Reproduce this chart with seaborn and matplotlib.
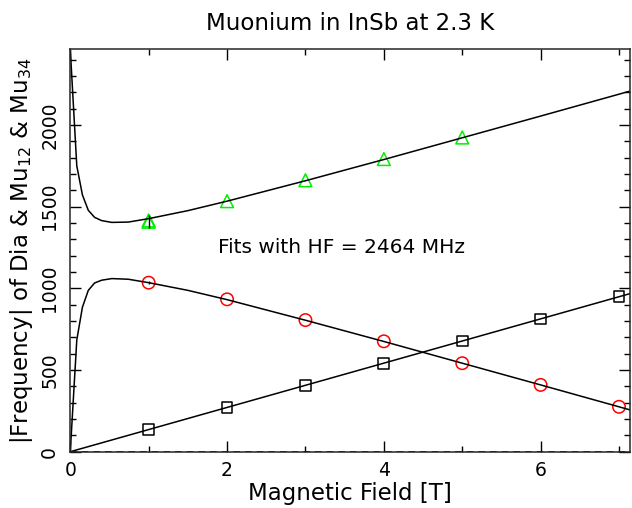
import matplotlib
matplotlib.use("Agg")
import matplotlib.pyplot as plt
import seaborn as sns
from matplotlib.ticker import MultipleLocator

# === DATOS ===
field_pts = [1, 2, 3, 4, 5, 6, 7]
dia_pts = [136, 271, 407, 542, 678, 812, 949]
mu12_pts = [1035, 933, 806, 676, 542, 409, 275]
mu34_field = [1, 1, 2, 3, 4, 5]
mu34_pts = [1408, 1416, 1534, 1662, 1792, 1924]

# fit curves
curve_field = [0, 0.083, 0.155, 0.23, 0.31, 0.4, 0.53, 0.74, 1.0, 1.5, 2, 3, 4, 5, 6, 7, 7.2]
mu12_curve = [0, 684, 885, 988, 1033, 1050, 1060, 1056, 1035, 988, 931, 805, 675, 542, 409, 275, 248]
mu34_curve = [2464, 1750, 1572, 1478, 1435, 1415, 1404, 1406, 1427, 1476, 1534, 1659, 1789, 1922, 2055, 2189, 2216]
dia_field = [0, 7.2]
dia_curve = [0, 976]

hf = 2464

# === FIGURA ===
sns.set_style("ticks")
plt.rcParams["font.family"] = ["DejaVu Sans"]
plt.rcParams["text.color"] = "black"
plt.rcParams["axes.labelcolor"] = "black"
plt.rcParams["xtick.color"] = "black"
plt.rcParams["ytick.color"] = "black"

fig = plt.figure(figsize=(6.32, 5.08), dpi=100)
ax = fig.add_axes([0.1112, 0.1108, 0.8856, 0.7922])

for xs, ys in [(curve_field, mu12_curve), (curve_field, mu34_curve), (dia_field, dia_curve)]:
    sns.lineplot(x=xs, y=ys, ax=ax, color="black", lw=1.1, sort=False, estimator=None)

ax.axhline(0, color="black", ls=(0, (4, 3)), lw=1.2)

# error bars at 1 T
ax.errorbar([1], [1410], yerr=[40], fmt="none", ecolor="black", lw=1)
ax.errorbar([1], [1035], yerr=[8], fmt="none", ecolor="black", lw=1)

sns.scatterplot(x=field_pts, y=dia_pts, ax=ax, marker="s", s=60,
                facecolor="none", edgecolor="black", linewidth=1.1)
sns.scatterplot(x=field_pts, y=mu12_pts, ax=ax, marker="o", s=80,
                facecolor="none", edgecolor="red", linewidth=1.1)
sns.scatterplot(x=mu34_field, y=mu34_pts, ax=ax, marker="^", s=85,
                facecolor="none", edgecolor="#00ee00", linewidth=1.1)

ax.text(1.89, 1253, f"Fits with HF = {hf} MHz", fontsize=14.5, va="center", ha="left")

ax.set_xlim(0, 7.14)
ax.set_ylim(0, hf)
ax.xaxis.set_major_locator(MultipleLocator(2))
ax.xaxis.set_minor_locator(MultipleLocator(1))
ax.yaxis.set_major_locator(MultipleLocator(500))
ax.yaxis.set_minor_locator(MultipleLocator(100))
ax.tick_params(which="both", direction="in", top=True, right=True, labelsize=13.5)
ax.tick_params(which="major", length=8, width=1)
ax.tick_params(which="minor", length=4, width=1)
ax.tick_params(axis="y", labelrotation=90, pad=8)
ax.tick_params(axis="x", pad=7)
for lab in ax.get_yticklabels():
    lab.set_va("center")
for s in ax.spines.values():
    s.set_linewidth(1.1)

ax.set_xlabel("Magnetic Field [T]", fontsize=16.5, labelpad=1)
ax.set_ylabel("|Frequency| of Dia & Mu$_{12}$ & Mu$_{34}$", fontsize=16.5, labelpad=4)
ax.set_title("Muonium in InSb at 2.3 K", fontsize=16.5, pad=14)

fig.savefig("out.png", dpi=100)
